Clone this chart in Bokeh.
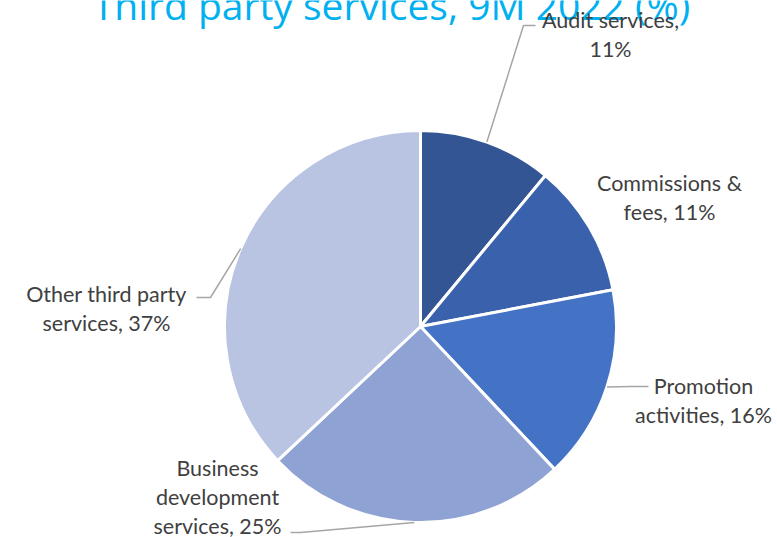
import math
from bokeh.plotting import figure
from bokeh.models import Range1d, ColumnDataSource
from bokeh.core.properties import value
from bokeh.embed import file_html
from bokeh.resources import INLINE

# ---- data ----
categories = ["Audit services", "Commissions & fees", "Promotion activities",
              "Business development services", "Other third party services"]
shares = [11, 11, 16, 25, 37]
label_lines = [
    ["Audit services,", "11%"],
    ["Commissions &", "fees, 11%"],
    ["Promotion", "activities, 16%"],
    ["Business", "development", "services, 25%"],
    ["Other third party", "services, 37%"],
]
colors = ["#335593", "#3a62ac", "#4472c4", "#8fa2d4", "#b9c3e2"]
title = "Third party services, 9M 2022 (%)"

# ---- layout (pixel coordinates, top-left origin) ----
W, H = 777, 537
CX, CY, R = 420, 326, 196
label_pos = [(610, 19), (669, 182), (703, 385), (217, 467), (106, 293)]
line_gap = 29
# leader line bend/end points (pixel coords), None = no leader
leaders = [
    [(523, 25), (535, 25)],
    None,
    [(630, 386), (648, 386)],
    [(300, 532), (290, 532)],
    [(210, 297), (196, 297)],
]

def fy(y):
    return H - y

p = figure(width=W, height=H, output_backend="svg", toolbar_location=None,
           x_range=Range1d(0, W), y_range=Range1d(0, H), min_border=0)
p.axis.visible = False
p.grid.visible = False
p.outline_line_color = None
p.background_fill_color = "white"
p.border_fill_color = "white"

total = float(sum(shares))
starts, ends, mids = [], [], []
cum = 0.0
for s in shares:
    a0 = math.pi / 2 - 2 * math.pi * cum / total
    cum += s
    a1 = math.pi / 2 - 2 * math.pi * cum / total
    starts.append(a0)
    ends.append(a1)
    mids.append((a0 + a1) / 2)

src = ColumnDataSource(dict(start=starts, end=ends, color=colors, cat=categories))
p.wedge(x=CX, y=fy(CY), radius=R, start_angle="start", end_angle="end",
        direction="clock", fill_color="color", line_color="white", line_width=3,
        source=src)

# title (partially cut off at top, as in the original)
p.text(x=[391], y=[fy(4)], text=[title], text_font=value("Open Sans"),
       text_font_size="39px", text_color="#00b0f0", text_align="center",
       text_baseline="alphabetic")

# leader lines
for i, pts in enumerate(leaders):
    if pts is None:
        continue
    ex = CX + R * math.cos(mids[i])
    ey = fy(CY) + R * math.sin(mids[i])
    xs = [ex] + [q[0] for q in pts]
    ys = [ey] + [fy(q[1]) for q in pts]
    p.line(xs, ys, line_color="#a6a6a6", line_width=1.5)

# labels
for (lx, ly), lines in zip(label_pos, label_lines):
    for k, t in enumerate(lines):
        p.text(x=[lx], y=[fy(ly + k * line_gap)], text=[t],
               text_font=value("Lato"), text_font_size="21.5px",
               text_color="#404040", text_align="center", text_baseline="middle")

open("out.html", "w").write(file_html(p, INLINE))
